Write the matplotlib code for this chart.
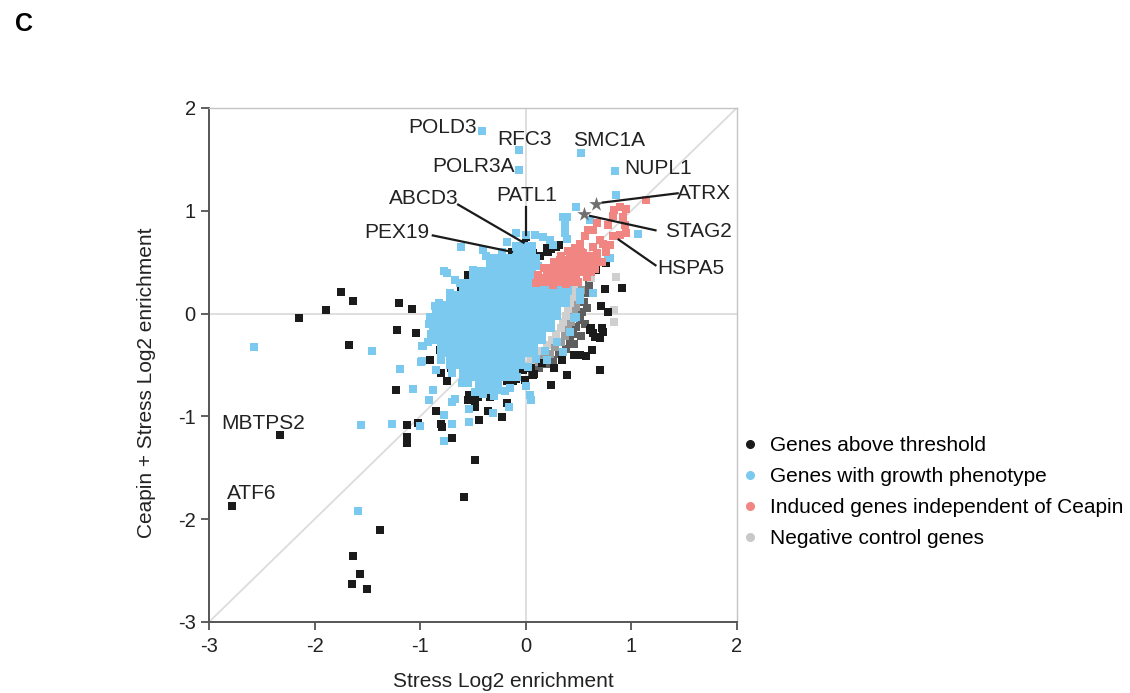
"""
Ceapin screen: Stress vs Ceapin + Stress enrichment (panel C).
"""

import matplotlib
matplotlib.use("Agg")
import matplotlib.pyplot as plt
import numpy as np

plt.rcParams['font.family'] = ['Liberation Sans', 'DejaVu Sans']
plt.rcParams['axes.unicode_minus'] = False

BLACK = '#1b1b1b'
BLUE = '#7cc9ef'
RED = '#f08582'
GRAY = '#c8c8c8'
STAR = '#6f6f6f'

# genes above threshold
above_pts = [
    (-1.75, 0.21), (-1.64, 0.12), (-1.89, 0.03), (-2.15, -0.04), (-1.20, 0.10),
    (-1.08, 0.04), (-1.22, -0.16), (-1.04, -0.19), (-1.67, -0.31), (-1.23, -0.74),
    (-2.33, -1.18), (-1.12, -1.08), (-1.12, -1.20), (-1.12, -1.26), (-1.02, -1.06),
    (-0.80, -1.07), (-0.79, -1.10), (-0.70, -1.21), (-0.48, -1.42), (-0.58, -1.78),
    (-0.54, -0.79), (-0.48, -0.91), (-0.36, -0.95), (-0.22, -1.01), (-0.18, -0.87),
    (-0.44, -1.04), (-0.81, -0.35), (-0.60, -0.37), (-0.71, -0.53), (-0.83, -0.08),
    (-0.66, -0.11), (0.24, -0.69), (0.39, -0.60), (0.46, -0.40), (0.27, -0.53),
    (0.34, -0.45), (0.07, -0.60), (-0.03, -0.55), (0.70, -0.55), (0.61, -0.16),
    (0.08, -0.59), (-0.01, -0.65), (-0.09, -0.64), (-0.18, -0.66), (-0.47, -0.80),
    (-0.48, -0.84), (-0.85, -0.95), (-1.38, -2.11), (-1.64, -2.36), (-1.57, -2.53),
    (-1.65, -2.63), (-1.50, -2.68), (-2.78, -1.87), (0.91, 0.25), (0.75, 0.24),
    (0.78, 0.02), (0.71, 0.07), (0.62, -0.14), (0.73, -0.18), (0.66, -0.23),
    (0.57, -0.41), (0.63, -0.35), (0.76, 0.49), (0.67, 0.42), (0.32, 0.67),
    (0.24, 0.63), (0.14, 0.56), (-0.13, 0.60), (-0.55, 0.38), (-0.61, 0.23),
    (-0.69, 0.10), (-0.59, 0.13), (-0.53, 0.05), (-0.81, -0.08), (-0.69, -0.13),
    (-0.28, 0.49), (0.09, 0.55), (0.21, 0.60), (0.29, 0.65), (-0.62, 0.18),
    (-0.28, 0.52), (0.20, 0.64), (0.10, 0.55), (0.72, -0.14), (0.64, -0.19),
    (0.70, -0.24), (0.51, -0.40), (0.15, -0.48), (0.05, -0.53), (-0.12, -0.66),
    (-0.25, -0.58), (-0.34, -0.61), (-0.44, -0.66), (-0.45, -0.81), (-0.34, -0.81),
    (-0.55, -0.84), (-0.75, -0.66), (-0.80, -0.58), (-0.91, -0.45), (0.00, 0.74),
    (-0.02, 0.68), (0.07, 0.59),
]

# genes with growth phenotype: scattered points
growth_pts = [
    (-2.57, -0.33), (-1.46, -0.36), (-1.19, -0.54), (-0.98, -0.32), (-0.98, -0.46),
    (-1.07, -0.73), (-1.56, -1.08), (-1.27, -1.07), (-1.00, -1.09), (-0.77, -1.24),
    (-0.70, -1.07), (-0.77, -0.99), (-0.54, -1.05), (-0.31, -0.97), (-0.16, -0.91),
    (0.04, -0.79), (0.05, -0.84), (-0.54, -0.93), (-0.92, -0.84), (-0.88, -0.74),
    (-0.67, -0.83), (-0.70, -0.86), (-0.75, 0.39), (-0.91, -0.03), (-0.85, 0.02),
    (-0.75, 0.08), (-0.57, 0.12), (0.51, 0.21), (0.48, -0.03), (0.35, -0.37),
    (-0.10, -0.55), (-1.59, -1.92), (-0.41, 1.78), (-0.06, 1.59), (-0.06, 1.40),
    (0.52, 1.56), (0.85, 1.39), (0.48, 1.04), (0.39, 0.94), (0.37, 0.89),
    (0.61, 0.91), (0.86, 1.15), (1.06, 0.77), (0.37, 0.78), (0.39, 0.73),
    (0.26, 0.67), (0.16, 0.74), (0.09, 0.76), (-0.09, 0.78), (-0.18, 0.70),
    (-0.61, 0.65), (-0.77, 0.41), (0.78, 0.54), (0.64, 0.20), (0.46, -0.04),
    (0.42, -0.18), (0.00, 0.76), (0.23, 0.72), (0.35, 0.94), (0.37, 0.85),
    (-0.40, 0.62), (-0.67, 0.33), (-0.86, 0.07), (-0.97, -0.32), (-0.99, -0.47),
    (0.51, 0.13), (0.80, 0.54), (-0.90, -0.20), (-0.85, -0.55), (-0.60, -0.68),
    (-0.40, -0.78), (-0.20, -0.75), (0.00, -0.70), (0.20, -0.45), (0.30, -0.28),
    (-0.50, 0.42), (-0.38, 0.56), (-0.62, 0.30), (-0.72, 0.20), (-0.82, 0.10),
    (-0.92, -0.10), (-0.93, -0.28), (-0.80, -0.45), (-0.70, -0.58), (-0.55, -0.68),
    (-0.48, -0.76), (-0.30, -0.80), (-0.15, -0.72), (-0.08, -0.62), (0.02, -0.52),
    (0.10, -0.44), (0.18, -0.36), (-0.22, 0.60), (0.12, 0.46),
]

# dense centre of the growth-phenotype cloud, one row per y level
growth_core_pts = [
    (-0.05, 0.62), (0.02, 0.62),
    (-0.30, 0.50), (-0.18, 0.50), (-0.06, 0.50), (0.06, 0.50),
    (-0.46, 0.38), (-0.34, 0.38), (-0.22, 0.38), (-0.10, 0.38), (0.02, 0.38),
    (-0.56, 0.26), (-0.44, 0.26), (-0.32, 0.26), (-0.20, 0.26), (-0.08, 0.26),
    (0.04, 0.26), (0.16, 0.26), (0.28, 0.26), (0.36, 0.26),
    (-0.68, 0.14), (-0.56, 0.14), (-0.44, 0.14), (-0.32, 0.14), (-0.20, 0.14),
    (-0.08, 0.14), (0.04, 0.14), (0.16, 0.14), (0.26, 0.14), (0.34, 0.14),
    (-0.78, 0.02), (-0.66, 0.02), (-0.54, 0.02), (-0.42, 0.02), (-0.30, 0.02),
    (-0.18, 0.02), (-0.06, 0.02), (0.06, 0.02), (0.16, 0.02), (0.26, 0.02),
    (-0.84, -0.10), (-0.72, -0.10), (-0.60, -0.10), (-0.48, -0.10), (-0.36, -0.10),
    (-0.24, -0.10), (-0.12, -0.10), (0.00, -0.10), (0.10, -0.10), (0.20, -0.10),
    (-0.82, -0.22), (-0.70, -0.22), (-0.58, -0.22), (-0.46, -0.22), (-0.34, -0.22),
    (-0.22, -0.22), (-0.10, -0.22), (0.02, -0.22), (0.12, -0.22),
    (-0.76, -0.34), (-0.64, -0.34), (-0.52, -0.34), (-0.40, -0.34), (-0.28, -0.34),
    (-0.16, -0.34), (-0.04, -0.34), (0.04, -0.34),
    (-0.68, -0.46), (-0.56, -0.46), (-0.44, -0.46), (-0.32, -0.46), (-0.20, -0.46),
    (-0.08, -0.46),
    (-0.56, -0.58), (-0.44, -0.58), (-0.32, -0.58), (-0.20, -0.58),
    (-0.40, -0.70), (-0.30, -0.70),
]

# induced genes independent of Ceapin
induced_pts = [
    (0.10, 0.30), (0.12, 0.38), (0.17, 0.44), (0.27, 0.50), (0.33, 0.56),
    (0.40, 0.61), (0.47, 0.64), (0.52, 0.60), (0.60, 0.56), (0.68, 0.55),
    (0.72, 0.50), (0.66, 0.43), (0.58, 0.36), (0.50, 0.31), (0.38, 0.29),
    (0.26, 0.28), (1.14, 1.10), (0.95, 1.02), (0.89, 1.04), (0.84, 1.01),
    (0.83, 0.95), (0.92, 0.94), (0.94, 0.86), (0.95, 0.78), (0.89, 0.76),
    (0.83, 0.75), (0.80, 0.67), (0.73, 0.68), (0.78, 0.86), (0.68, 0.88),
    (0.64, 0.81), (0.59, 0.81), (0.56, 0.75), (0.51, 0.68), (0.51, 0.65),
    (0.64, 0.65), (0.68, 0.59), (0.54, 0.59), (0.76, 0.60), (0.70, 0.72),
]
induced_core_pts = [
    (0.16, 0.33), (0.26, 0.33), (0.36, 0.33), (0.46, 0.33),
    (0.22, 0.42), (0.32, 0.42), (0.42, 0.42), (0.52, 0.42), (0.60, 0.42),
    (0.34, 0.50), (0.44, 0.50), (0.54, 0.50), (0.64, 0.50),
    (0.44, 0.57), (0.52, 0.57),
]

# negative control genes, light near the cloud to dark further out
control_light = [
    (0.46, 0.23), (0.44, 0.16), (0.42, 0.10), (0.40, 0.04), (0.38, -0.02),
    (0.35, -0.08), (0.33, -0.14), (0.29, -0.20), (0.25, -0.26), (0.20, -0.31),
    (0.15, -0.36), (0.10, -0.41), (0.05, -0.45), (0.00, -0.50),
    (0.84, 0.03), (0.84, -0.08), (0.86, 0.36), (0.62, 0.35),
]
control_mid = [
    (0.52, 0.23), (0.50, 0.14), (0.48, 0.06), (0.46, -0.01), (0.43, -0.08),
    (0.40, -0.15), (0.37, -0.22), (0.33, -0.28), (0.28, -0.33), (0.23, -0.39),
    (0.17, -0.43), (0.11, -0.47), (0.05, -0.52),
]
control_dark = [
    (0.57, 0.20), (0.55, 0.11), (0.53, 0.02), (0.51, -0.06), (0.48, -0.13),
    (0.45, -0.20), (0.42, -0.27), (0.38, -0.34), (0.32, -0.39), (0.26, -0.45),
    (0.20, -0.49), (0.13, -0.53), (0.06, -0.57), (-0.06, 0.39), (-0.10, 0.43),
    (0.60, 0.28), (0.58, 0.05), (0.56, -0.10), (0.52, -0.22), (0.46, -0.30),
]

# starred genes
star_pts = [(0.67, 1.07), (0.55, 0.97)]

# labels: text, anchor, alignment, leader end (None = no leader)
labels = [
    ('POLD3', (-0.46, 1.81), 'right', None),
    ('RFC3', (-0.01, 1.69), 'center', None),
    ('POLR3A', (-0.10, 1.43), 'right', None),
    ('SMC1A', (0.79, 1.68), 'center', None),
    ('NUPL1', (0.93, 1.41), 'left', None),
    ('ATRX', (1.95, 1.17), 'right', (0.73, 1.08)),
    ('STAG2', (1.95, 0.80), 'right', (0.61, 0.95)),
    ('HSPA5', (1.25, 0.44), 'left', (0.88, 0.72)),
    ('PATL1', (0.01, 1.15), 'center', (0.00, 0.76)),
    ('ABCD3', (-0.64, 1.12), 'right', (-0.02, 0.69)),
    ('PEX19', (-0.91, 0.79), 'right', (-0.13, 0.60)),
    ('MBTPS2', (-2.88, -1.07), 'left', None),
    ('ATF6', (-2.83, -1.75), 'left', None),
]
leader_start = {
    'ATRX': (1.44, 1.17), 'STAG2': (1.23, 0.81), 'HSPA5': (1.23, 0.47),
    'PATL1': (0.00, 1.04), 'ABCD3': (-0.64, 1.06), 'PEX19': (-0.88, 0.76),
}

legend_names = ['Genes above threshold', 'Genes with growth phenotype',
                'Induced genes independent of Ceapin', 'Negative control genes']


def xy(pts):
    a = np.array(pts)
    return a[:, 0], a[:, 1]


fig = plt.figure(figsize=(11.3, 6.93), dpi=100)
ax = fig.add_axes([0.185, 0.1025, 0.467, 0.7417])

# reference lines
ax.axhline(0, color='#dcdcdc', lw=1.3, zorder=0)
ax.axvline(0, color='#dcdcdc', lw=1.3, zorder=0)
ax.plot([-3, 2], [-3, 2], color='#dcdcdc', lw=1.3, zorder=0)

x, y = xy(control_dark)
ax.scatter(x, y, s=34, marker='s', color='#5e5e5e', lw=0, zorder=1)
x, y = xy(control_mid)
ax.scatter(x, y, s=34, marker='s', color='#9c9c9c', lw=0, zorder=1)
x, y = xy(control_light)
ax.scatter(x, y, s=34, marker='s', color='#cfcfcf', lw=0, zorder=1)

x, y = xy(above_pts)
ax.scatter(x, y, s=26, marker='s', color=BLACK, lw=0, zorder=2)

x, y = xy(growth_core_pts)
ax.scatter(x, y, s=120, marker='s', color=BLUE, lw=0, zorder=3)
x, y = xy(growth_pts)
ax.scatter(x, y, s=34, marker='s', color=BLUE, lw=0, zorder=3)

x, y = xy(induced_core_pts)
ax.scatter(x, y, s=80, marker='s', color=RED, lw=0, zorder=4)
x, y = xy(induced_pts)
ax.scatter(x, y, s=34, marker='s', color=RED, lw=0, zorder=4)

x, y = xy(star_pts)
ax.scatter(x, y, s=120, marker='*', color=STAR, lw=0, zorder=5)

for name, pos, ha, end in labels:
    ax.text(pos[0], pos[1], name, ha=ha, va='center', fontsize=15,
            color='#222222', zorder=6)
    if end is not None:
        start = leader_start[name]
        ax.plot([start[0], end[0]], [start[1], end[1]], color='#1b1b1b',
                lw=1.6, zorder=6)

ax.set_xlim(-3, 2)
ax.set_ylim(-3, 2)
ax.set_xticks([-3, -2, -1, 0, 1, 2])
ax.set_yticks([-3, -2, -1, 0, 1, 2])
ax.tick_params(direction='out', length=6, width=1.2, colors='#444444',
               labelcolor='#222222', labelsize=14.5)
ax.tick_params(axis='x', pad=5)
for side in ['left', 'bottom']:
    ax.spines[side].set_color('#555555')
    ax.spines[side].set_linewidth(1.4)
for side in ['top', 'right']:
    ax.spines[side].set_color('#c4c4c4')
    ax.spines[side].set_linewidth(1.0)

ax.set_xlabel('Stress Log2 enrichment', fontsize=15, color='#222222',
              labelpad=11)
ax.set_ylabel('Ceapin + Stress Log2 enrichment', fontsize=15,
              color='#222222', labelpad=16)
ax.xaxis.label.set_x(0.557)
ax.yaxis.label.set_y(0.465)

# legend
handles = []
for c in [BLACK, BLUE, RED, GRAY]:
    h, = ax.plot([], [], 'o', color=c, markersize=5.5, lw=0)
    handles.append(h)
ax.legend(handles, legend_names, loc='upper left', bbox_to_anchor=(0.99, 0.378),
          frameon=False, fontsize=15, handletextpad=0.46, labelspacing=0.58,
          handlelength=1.0, borderaxespad=0)

fig.text(0.013, 0.965, 'C', fontsize=18, fontweight='bold', va='center')

plt.savefig('out.png', dpi=100)
